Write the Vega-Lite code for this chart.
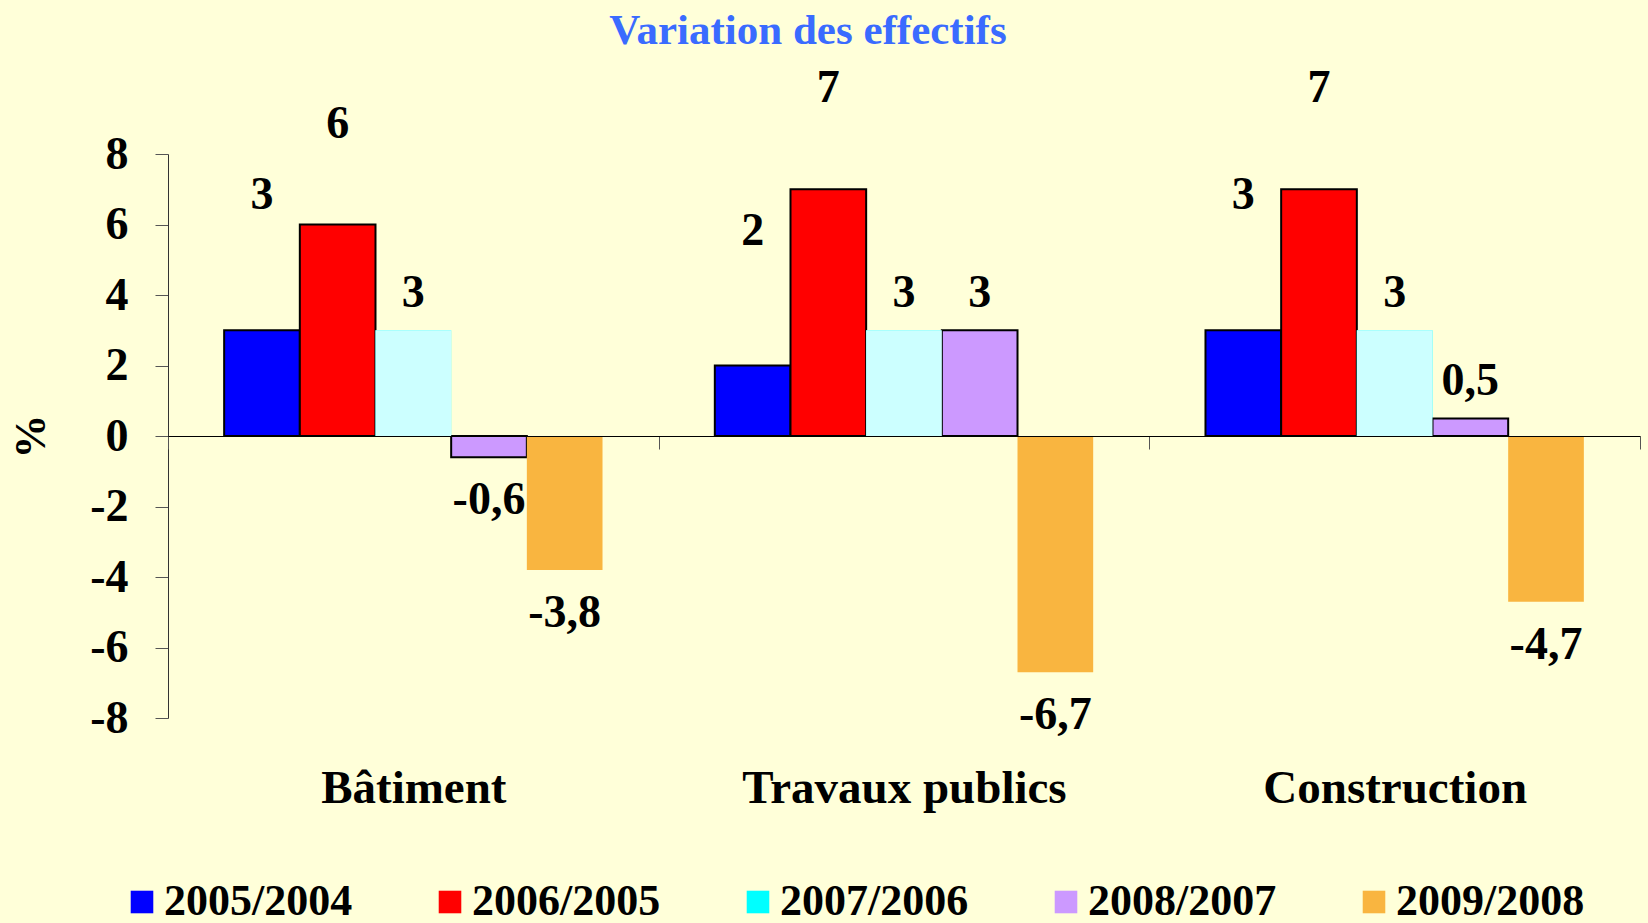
{
  "$schema": "https://vega.github.io/schema/vega-lite/v6.json",
  "autosize": {"type": "none"},
  "width": 1472,
  "height": 564,
  "padding": {"left": 168, "top": 154, "right": 8, "bottom": 205},
  "background": "#FFFFD9",
  "title": {
    "text": "Variation des effectifs",
    "font": "Liberation Serif",
    "fontSize": 43,
    "fontWeight": "bold",
    "color": "#3A6BFF",
    "anchor": "middle",
    "dx": -96,
    "offset": 12
  },
  "config": {
    "view": {"stroke": null},
    "locale": {"number": {"decimal": ",", "thousands": " ", "grouping": [3], "currency": ["", " €"], "minus": "-"}},
    "text": {"font": "Liberation Serif", "fontWeight": "bold", "fontSize": 46, "color": "black", "baseline": "middle"}
  },
  "data": {
    "values": [
      {"category": "Bâtiment", "period": "2005/2004", "value": 3},
      {"category": "Bâtiment", "period": "2006/2005", "value": 6},
      {"category": "Bâtiment", "period": "2007/2006", "value": 3},
      {"category": "Bâtiment", "period": "2008/2007", "value": -0.6},
      {"category": "Bâtiment", "period": "2009/2008", "value": -3.8},
      {"category": "Travaux publics", "period": "2005/2004", "value": 2},
      {"category": "Travaux publics", "period": "2006/2005", "value": 7},
      {"category": "Travaux publics", "period": "2007/2006", "value": 3},
      {"category": "Travaux publics", "period": "2008/2007", "value": 3},
      {"category": "Travaux publics", "period": "2009/2008", "value": -6.7},
      {"category": "Construction", "period": "2005/2004", "value": 3},
      {"category": "Construction", "period": "2006/2005", "value": 7},
      {"category": "Construction", "period": "2007/2006", "value": 3},
      {"category": "Construction", "period": "2008/2007", "value": 0.5},
      {"category": "Construction", "period": "2009/2008", "value": -4.7}
    ]
  },
  "encoding": {
    "x": {
      "field": "category", "type": "nominal", "sort": null,
      "scale": {"paddingInner": 0, "paddingOuter": 0},
      "axis": {
        "title": null, "orient": "bottom", "offset": -282, "labelAngle": 0,
        "domainColor": "black", "domainWidth": 1.2,
        "ticks": true, "tickBand": "extent", "tickSize": 13, "tickColor": "#555555",
        "labelFont": "Liberation Serif", "labelFontSize": 47, "labelFontWeight": "bold", "labelColor": "black",
        "labelPadding": 316, "labelLimit": 800, "zindex": 1
      }
    },
    "xOffset": {"field": "period", "type": "nominal", "sort": ["2005/2004", "2006/2005", "2007/2006", "2008/2007", "2009/2008"], "scale": {"domain": ["2005/2004", "2006/2005", "2007/2006", "2008/2007", "2009/2008"], "paddingInner": 0, "paddingOuter": 0.742}},
    "y": {
      "field": "value", "type": "quantitative",
      "scale": {"domain": [-8, 8], "nice": false},
      "axis": {
        "title": "%", "values": [-8, -6, -4, -2, 0, 2, 4, 6, 8], "grid": false,
        "domainColor": "#333333", "tickColor": "#555555", "tickSize": 13,
        "labelFont": "Liberation Serif", "labelFontSize": 46, "labelFontWeight": "bold", "labelColor": "black",
        "labelPadding": 27,
        "titleFont": "Liberation Serif", "titleFontSize": 44, "titleFontWeight": "bold", "titleColor": "black",
        "titlePadding": 36
      }
    }
  },
  "layer": [
    {
      "mark": {"type": "bar", "stroke": "black"},
      "encoding": {
        "color": {
          "field": "period", "type": "nominal", "sort": null,
          "scale": {"domain": ["2005/2004", "2006/2005", "2007/2006", "2008/2007", "2009/2008"], "range": ["#0000FF", "#FF0000", "#00FFFF", "#CC99FF", "#F9B540"]},
          "legend": {
            "title": null, "orient": "none", "legendX": -48, "legendY": 726,
            "direction": "horizontal", "columns": 5, "columnPadding": 75, "padding": 0,
            "symbolType": "square", "symbolSize": 510, "symbolStrokeWidth": 0, "symbolOpacity": 1,
            "labelFont": "Liberation Serif", "labelFontSize": 44, "labelFontWeight": "bold", "labelColor": "black",
            "labelOffset": 0, "labelLimit": 400
          }
        },
        "strokeWidth": {"condition": {"test": "datum.period === '2007/2006' || datum.period === '2009/2008'", "value": 0}, "value": 2}
      }
    },
    {
      "transform": [{"filter": "datum.period === '2007/2006'"}],
      "mark": {"type": "bar", "fill": "#CCFFFF", "strokeWidth": 0}
    },
    {
      "transform": [{"filter": "datum.period === '2005/2004'"}],
      "mark": {"type": "text", "dy": -135},
      "encoding": {"text": {"field": "value", "type": "quantitative", "format": ".1~f"}}
    },
    {
      "transform": [{"filter": "datum.period === '2006/2005'"}],
      "mark": {"type": "text", "dy": -101},
      "encoding": {"text": {"field": "value", "type": "quantitative", "format": ".1~f"}}
    },
    {
      "transform": [{"filter": "(datum.period === '2007/2006' || datum.period === '2008/2007') && datum.value >= 0"}],
      "mark": {"type": "text", "dy": -37},
      "encoding": {"text": {"field": "value", "type": "quantitative", "format": ".1~f"}}
    },
    {
      "transform": [{"filter": "datum.value < 0"}],
      "mark": {"type": "text", "dy": 43},
      "encoding": {"text": {"field": "value", "type": "quantitative", "format": ".1~f"}}
    }
  ]
}
